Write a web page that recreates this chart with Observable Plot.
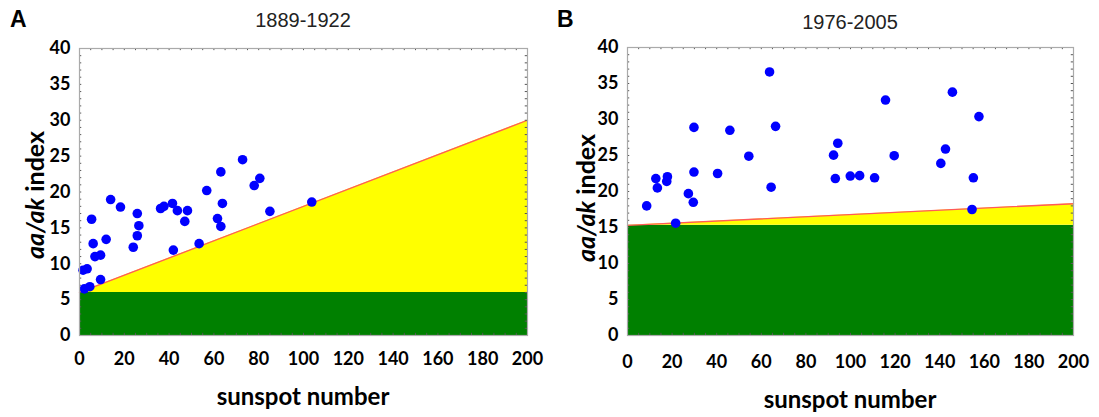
<!DOCTYPE html>
<html>
<head>
<meta charset="utf-8">
<script src="https://cdn.jsdelivr.net/npm/d3@7"></script>
<script src="https://cdn.jsdelivr.net/npm/@observablehq/plot@0.6"></script>
<style>
  html, body { margin: 0; padding: 0; background: #fff; }
  #wrap { position: relative; width: 1099px; height: 417px; overflow: hidden; font-family: Lato, "Open Sans", sans-serif; }
  .panel { position: absolute; top: 0; width: 550px; height: 417px; }
  .letter { position: absolute; font: bold 23px "Liberation Sans", Arial, sans-serif; color: #000; }
  .title { position: absolute; font: 20px "Liberation Sans", Arial, sans-serif; color: #222; transform: translateX(-50%); white-space: nowrap; }
  .xlab { position: absolute; font: bold 24px Lato, "Open Sans", sans-serif; color: #000; transform: translateX(-50%); white-space: nowrap; }
  .ylab { position: absolute; font: bold 25px Lato, "Open Sans", sans-serif; color: #000; transform: translate(-50%, -50%) rotate(-90deg); white-space: nowrap; }
</style>
</head>
<body>
<div id="wrap"></div>
<script>
// ---------- data ----------
const panelLetters = ["A", "B"];
const panelTitles = ["1889-1922", "1976-2005"];
const xTicks = [0, 20, 40, 60, 80, 100, 120, 140, 160, 180, 200];
const yTicks = [0, 5, 10, 15, 20, 25, 30, 35, 40];

// Panel A (1889-1922): sunspot number vs aa index
const aSunspot = [13.9, 18.3, 5.4, 25.8, 26.5, 25.8, 24.0, 11.9, 6.1, 6.9, 9.4, 1.6, 3.4, 9.4, 4.6, 2.2,
                  36.2, 37.7, 41.5, 43.7, 48.2, 47.0, 41.9, 53.4,
                  72.8, 63.1, 80.5, 78.0, 56.8, 63.8, 61.6, 63.1, 85.0, 103.7];
const aIndex   = [18.95, 17.9, 16.2, 17.0, 15.3, 13.9, 12.3, 13.4, 12.8, 11.0, 11.2, 9.1, 9.3, 7.8, 6.8, 6.5,
                  17.7, 18.0, 18.4, 17.4, 17.4, 15.9, 11.9, 12.8,
                  24.5, 22.8, 21.9, 20.9, 20.2, 18.4, 16.3, 15.2, 17.3, 18.6];
const aGreenTop = 6;
const aLineX = [0, 200];
const aLineY = [6, 30];

// Panel B (1976-2005)
const bSunspot = [63.7, 29.8, 45.9, 66.4, 54.4, 29.8, 40.4, 12.7, 17.9, 17.6, 13.4, 64.4, 27.3, 29.5, 8.6, 21.6,
                  115.7, 145.7, 157.6, 94.3, 92.4, 119.6, 142.6, 140.5, 93.2, 99.9, 104.1, 110.8, 155.1, 154.5];
const bIndex   = [36.6, 28.9, 28.5, 29.05, 24.9, 22.7, 22.5, 21.8, 22.05, 21.4, 20.5, 20.6, 19.7, 18.5, 18.0, 15.6,
                  32.7, 33.8, 30.4, 26.7, 25.05, 24.97, 25.9, 23.9, 21.8, 22.15, 22.2, 21.9, 21.9, 17.5];
const bGreenTop = 15.3;
const bLineX = [0, 200];
const bLineY = [15.3, 18.3];

// ---------- drawing ----------
const wrap = document.getElementById("wrap");

function makePanel(opts) {
  const {left, letter, title, xs, ys, greenTop, lineX, lineY, mTop, mBottom, mLeft, mRight} = opts;
  const div = document.createElement("div");
  div.className = "panel";
  div.style.left = left + "px";
  wrap.appendChild(div);

  const pts = xs.map((x, i) => ({x, y: ys[i]}));
  const line = lineX.map((x, i) => ({x, y: lineY[i], base: greenTop}));
  const minorX = d3.range(0, 201, 5);
  const minorY = d3.range(0, 41, 1);

  const chart = Plot.plot({
    width: 550,
    height: 417,
    marginTop: mTop,
    marginBottom: mBottom,
    marginLeft: mLeft,
    marginRight: mRight,
    style: {fontFamily: "Lato, 'Open Sans', sans-serif", fontSize: "18px", fontWeight: "bold", color: "#000", background: "transparent"},
    x: {domain: [0, 200], ticks: xTicks, label: null},
    y: {domain: [0, 40], ticks: yTicks, label: null},
    marks: [
      Plot.rect([{x1: 0, x2: 200, y1: 0, y2: greenTop}], {x1: "x1", x2: "x2", y1: "y1", y2: "y2", fill: "#008000"}),
      Plot.areaY(line, {x: "x", y1: "base", y2: "y", fill: "#ffff00"}),
      Plot.line(line, {x: "x", y: "y", stroke: "#ff5a5a", strokeWidth: 1.3}),
      Plot.ruleX(minorX, {x: d => d, y1: 0, y2: 0.3, stroke: "#555", strokeWidth: 1}),
      Plot.ruleX(minorX, {x: d => d, y1: 39.7, y2: 40, stroke: "#555", strokeWidth: 1}),
      Plot.ruleY(minorY, {y: d => d, x1: 0, x2: 1.0, stroke: "#555", strokeWidth: 1}),
      Plot.ruleY(minorY, {y: d => d, x1: 199, x2: 200, stroke: "#555", strokeWidth: 1}),
      Plot.dot(pts, {x: "x", y: "y", r: 4.8, fill: "#0000ff", stroke: "none"}),
      Plot.axisX({ticks: xTicks, tickSize: 0, tickPadding: opts.xPad, tickFormat: d => d, fontSize: 18, fontWeight: "bold"}),
      Plot.axisY({ticks: yTicks, tickSize: 0, tickPadding: 9, tickFormat: d => d, fontSize: 18, fontWeight: "bold"}),
      Plot.frame({stroke: "#aaa", strokeWidth: 1.2})
    ]
  });
  div.appendChild(chart);

  const frameL = mLeft, frameR = 550 - mRight;
  const cx = (frameL + frameR) / 2;

  const l = document.createElement("div");
  l.className = "letter"; l.textContent = letter;
  l.style.left = opts.letterX + "px"; l.style.top = "6px";
  div.appendChild(l);

  const t = document.createElement("div");
  t.className = "title"; t.textContent = title;
  t.style.left = cx + "px"; t.style.top = opts.titleTop + "px";
  div.appendChild(t);

  const xl = document.createElement("div");
  xl.className = "xlab"; xl.textContent = "sunspot number";
  xl.style.left = cx + "px"; xl.style.top = opts.xlabTop + "px";
  div.appendChild(xl);

  const yl = document.createElement("div");
  yl.className = "ylab"; yl.innerHTML = "<i>aa/ak</i> index";
  yl.style.left = opts.ylabX + "px"; yl.style.top = opts.ylabY + "px";
  div.appendChild(yl);
}

makePanel({left: 0, letter: panelLetters[0], title: panelTitles[0], xs: aSunspot, ys: aIndex,
  greenTop: aGreenTop, lineX: aLineX, lineY: aLineY,
  mTop: 48, mBottom: 82, mLeft: 79, mRight: 23, xPad: 17,
  letterX: 10, titleTop: 9, xlabTop: 381, ylabX: 34, ylabY: 195});

makePanel({left: 549, letter: panelLetters[1], title: panelTitles[1], xs: bSunspot, ys: bIndex,
  greenTop: bGreenTop, lineX: bLineX, lineY: bLineY,
  mTop: 47, mBottom: 82, mLeft: 78, mRight: 26, xPad: 20,
  letterX: 8, titleTop: 11, xlabTop: 384, ylabX: 36, ylabY: 198});
</script>
</body>
</html>
